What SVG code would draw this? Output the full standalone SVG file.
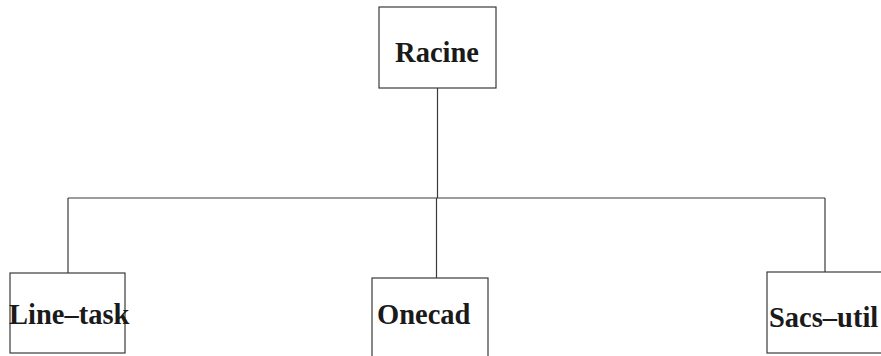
<svg xmlns="http://www.w3.org/2000/svg" width="881" height="356" viewBox="0 0 881 356">
  <style>
    .box { fill: #ffffff; stroke: #3a3a3a; stroke-width: 1.2; }
    .link { fill: none; stroke: #3a3a3a; stroke-width: 1.2; }
    .label { font-family: "Liberation Serif", "Times New Roman", serif; font-weight: bold; font-size: 28.5px; fill: #1a1a1a; }
  </style>
  <rect width="881" height="356" fill="#ffffff"/>
  <g id="connectors">
    <path class="link" d="M437.5 88 V198"/>
    <path class="link" d="M68 198 H825"/>
    <path class="link" d="M68 198 V273"/>
    <path class="link" d="M436.5 198 V278"/>
    <path class="link" d="M825 198 V272"/>
  </g>
  <g id="racine">
    <rect class="box" x="379" y="7" width="117" height="81"/>
    <text class="label" x="437" y="62" text-anchor="middle">Racine</text>
  </g>
  <g id="line-task">
    <rect class="box" x="10" y="273" width="115" height="80"/>
    <text class="label" x="9" y="324">Line–task</text>
  </g>
  <g id="onecad">
    <rect class="box" x="372" y="278" width="116" height="90"/>
    <text class="label" x="377" y="324">Onecad</text>
  </g>
  <g id="sacs-util">
    <rect class="box" x="767" y="272" width="130" height="81"/>
    <text class="label" x="769" y="327">Sacs–util</text>
  </g>
</svg>
